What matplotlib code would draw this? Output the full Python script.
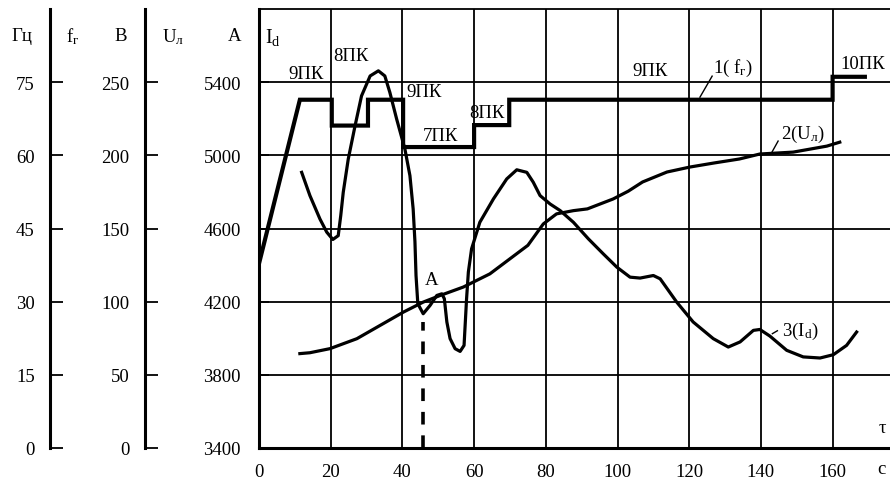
import matplotlib
matplotlib.use("Agg")
import matplotlib.pyplot as plt

plt.rcParams['font.family'] = ['Liberation Serif', 'DejaVu Serif']
plt.rcParams['mathtext.fontset'] = 'custom'
plt.rcParams['mathtext.rm'] = 'Liberation Serif'
plt.rcParams['mathtext.it'] = 'Liberation Serif:italic'

# ---- data ----
# curve 1: generator frequency f_г (Гц), step changes of controller position
f_t = [0, 11.4, 20.3, 20.3, 30.4, 30.4, 40.2, 40.2, 60.0, 60.0, 69.8, 69.8, 160.0, 160.0, 169.0]
f_hz = [37.8, 71.4, 71.4, 66.1, 66.1, 71.4, 71.4, 61.7, 61.7, 66.2, 66.2, 71.4, 71.4, 76.1, 76.1]

# curve 2: line voltage U_л (B)
u_t = [11.4, 14.2, 19.8, 27.3, 33.8, 40.3, 45.8, 50.5, 57.0, 64.4, 70.0, 75.0, 79.3, 83.0,
       87.7, 91.6, 98.8, 103.0, 107.0, 113.8, 120.2, 127.0, 134.0, 139.7, 149.0, 158.4, 162.0]
u_v = [64.5, 65.1, 67.9, 74.7, 83.8, 92.9, 99.7, 104.2, 110.0, 119.0, 129.3, 138.5, 153.1, 160.0,
       162.2, 163.4, 170.2, 175.5, 181.8, 188.6, 192.0, 194.8, 197.5, 200.9, 202.2, 206.3, 209.0]

# curve 3: current I_d (A)
i_t = [11.9, 14.2, 17.0, 18.9, 20.6, 22.1, 22.8, 23.5, 24.9, 26.8, 28.6, 31.0, 33.3, 35.1,
       36.5, 38.4, 40.7, 42.1, 43.0, 43.5, 43.8, 44.3, 45.8, 47.7, 49.6, 51.0, 51.7, 52.4,
       53.3, 54.7, 56.1, 57.2, 57.9, 58.4, 59.3, 61.6, 65.4, 69.1, 71.9, 74.7, 76.5, 78.4,
       81.2, 84.0, 87.7, 91.9, 96.0, 99.8, 103.5, 106.3, 110.0, 111.9, 116.5, 121.1, 126.7,
       130.9, 134.2, 137.9, 139.7, 142.5, 147.2, 151.8, 156.5, 160.2, 163.9, 166.7]
i_a = [4907, 4780, 4652, 4580, 4540, 4561, 4670, 4798, 4980, 5162, 5325, 5434, 5462, 5434,
       5344, 5198, 5034, 4889, 4707, 4527, 4343, 4189, 4134, 4179, 4234, 4243, 4216, 4089,
       3998, 3943, 3928, 3961, 4216, 4362, 4489, 4634, 4762, 4871, 4921, 4907, 4853, 4780,
       4734, 4698, 4634, 4543, 4462, 4389, 4334, 4329, 4343, 4325, 4198, 4089, 3998,
       3952, 3980, 4043, 4048, 4012, 3934, 3898, 3892, 3910, 3961, 4034]

x_ticks = [0, 20, 40, 60, 80, 100, 120, 140, 160]
a_ticks = [3400, 3800, 4200, 4600, 5000, 5400]
hz_ticks = [0, 15, 30, 45, 60, 75]
v_ticks = [0, 50, 100, 150, 200, 250]

t_point_a = 45.8          # moment "A"
i_point_a = 4090          # top of dashed marker

pk_labels = ['9ПК', '8ПК', '9ПК', '7ПК', '8ПК', '9ПК', '10ПК']

W, H = 890, 481
fig = plt.figure(figsize=(W / 100, H / 100), dpi=100)
left, right, bottom, top = 259, 890, 449, 10
ax = fig.add_axes([left / W, (H - bottom) / H, (right - left) / W, (bottom - top) / H])

FS = 13.5
ax.set_xlim(0, (right - left) / 3.585)
ax.set_ylim(3400, 5800)
ax.set_xticks(x_ticks)
ax.set_yticks(a_ticks)
ax.tick_params(axis='x', length=0, pad=11, labelsize=FS)
ax.tick_params(axis='y', direction='in', length=7.5, width=1.3, pad=13, labelsize=FS)
ax.spines['right'].set_visible(False)
ax.spines['top'].set_linewidth(1.3)
ax.spines['left'].set_linewidth(2.2)
ax.spines['bottom'].set_linewidth(2.2)
for xv in x_ticks[1:]:
    ax.axvline(xv, color='black', lw=1.3, zorder=1)
for yv in a_ticks[1:]:
    ax.axhline(yv, color='black', lw=1.3, zorder=1)


def scale_axis(lim, ticks, offset_px):
    tw = ax.twinx()
    tw.set_ylim(*lim)
    tw.set_yticks(ticks)
    tw.yaxis.set_ticks_position('left')
    tw.yaxis.set_label_position('left')
    for s in ['right', 'top', 'bottom']:
        tw.spines[s].set_visible(False)
    tw.spines['left'].set_position(('outward', offset_px * 72 / 100))
    tw.spines['left'].set_linewidth(2.2)
    tw.tick_params(axis='y', direction='in', length=9.5, width=1.3, pad=11,
                   labelsize=FS, labelleft=True, labelright=False)
    return tw


ax_f = scale_axis((0, 90), hz_ticks, left - 50)
ax_u = scale_axis((0, 300), v_ticks, left - 145)

# curves
ax_f.plot(f_t, f_hz, color='black', lw=3.0, solid_joinstyle='miter', zorder=5)
ax_u.plot(u_t, u_v, color='black', lw=2.3, zorder=5, solid_joinstyle='round')
ax.plot(i_t, i_a, color='black', lw=2.3, zorder=5, solid_joinstyle='round')
ax.plot([t_point_a, t_point_a], [3400, i_point_a], color='black', lw=2.6,
        ls=(0, (3.5, 3.0)), zorder=5)

# annotations inside the plot
txt = dict(fontsize=FS, ha='center', va='center', zorder=6)
ax.text(1.7, 5651, r'I$_\mathrm{d}$', fontsize=FS + 1, ha='left', va='center')
pk_pos = [(13.1, 5449), (25.7, 5547), (46.0, 5351), (50.5, 5111), (63.6, 5236),
          (109.0, 5465), (168.5, 5504)]
for lab, (tx, ty) in zip(pk_labels, pk_pos):
    ax.text(tx, ty, lab, **txt)
ax.text(132.2, 5482, r'1( f$_\mathrm{г}$)', **txt)
ax.plot([126.4, 123.0], [5433, 5318], color='black', lw=1.0)
ax.text(151.7, 5122, r'2(U$_\mathrm{л}$)', **txt)
ax.plot([144.8, 143.1], [5078, 5018], color='black', lw=1.0)
ax.text(151.0, 4041, r'3(I$_\mathrm{d}$)', **txt)
ax.plot([144.6, 143.2], [4041, 4025], color='black', lw=1.0)
ax.text(48.0, 4320, 'A', **txt)
ax.text(173.8, 3512, 'τ', **txt)

# header labels of the scales
for lab, px in [('Гц', 22), (r'f$_\mathrm{г}$', 73), ('B', 121),
                (r'U$_\mathrm{л}$', 173), ('A', 235)]:
    fig.text(px / W, (H - 37) / H, lab, fontsize=FS, ha='center', va='center')
fig.text(881 / W, (H - 470) / H, 'c', fontsize=FS, ha='center', va='center')

fig.savefig('out.png', dpi=100)
